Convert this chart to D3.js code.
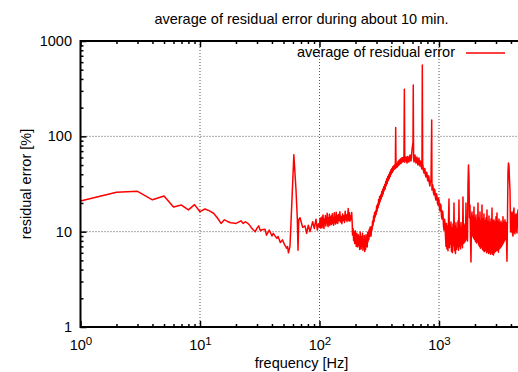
<!DOCTYPE html>
<html>
<head>
<meta charset="utf-8">
<script src="https://d3js.org/d3.v7.min.js"></script>
<style>
    body { margin: 0; background: #fff; }
    svg text { font-family: "Liberation Sans", Arial, Helvetica, sans-serif; fill: #000; }
</style>
</head>
<body>
<div id="chart"></div>
<script>
// spectrum: [frequency Hz, residual error %]
const lowBand = [[1,21],[2,25.9],[3,26.5],[4,21.6],[5,23.7],[6,18.1],[7,19.0],[8,16.9],[9,19.2],[10,16.2],
    [11,17.3],[12,16.5],[13,15.6],[14,13.9],[15,12.2],[16,13.3],[17,12.8],[18,12.4],[19,12.3],[20,12.2],
    [21,12.6],[22,13.0],[23,12.2],[24,12.7],[25,12.3],[26,11.7],[27,10.9],[28,10.4],[29,10.0],[30,10.9],
    [31,11.5],[32,10.2],[33,10.5],[35,10.6],[36,9.2],[38,10.4],[40,9.0],[41,9.6],[44,8.5],[45,8.9],
    [47,7.7],[49,8.2],[51,7.3],[53,6.7],[54,7.0],[55,6.0],[56.6,7.0]];

const mainsPeak = [[58.5,18.3],[61,64],[63.6,27.4],[65.2,13.8],[66.1,6.4],[67,13.3],[68.7,14.0]];

const midBand = [[72.3,11.1],[75.6,11.5],[78.1,9.6],[80.6,11.7],[83.3,10.0],[87.7,12.7],[90.5,10.8],
    [93.5,13.5],[95.9,10.4],[98,12.1],[100,11.2],[101,13.8],[102,10.9],[103,12.5],[104,14.2],[105,11.0],
    [106,13.1],[107,15.0],[108,11.8],[109,10.8],[110,13.6],[111,12.2],[112,14.8],[113,11.5],[114,13.9],
    [115,12.4],[116,15.6],[117,12.0],[118,11.3],[119,14.1],[120,12.9],[121,15.2],[122,11.6],[123,13.4],
    [124,12.1],[125,14.6],[126,11.9],[127,13.7],[128,15.4],[129,12.3],[130,14.0],[131,11.7],[132,13.2],
    [133,15.8],[134,12.5],[135,14.3],[136,12.0],[137,13.6],[138,16.0],[139,12.4],[140,14.9],[142,12.2],
    [144,15.1],[146,13.0],[148,16.2],[150,12.6],[152,14.4],[154,12.1],[156,15.3],[158,13.1],[160,14.7],
    [162,12.5],[164,16.4],[166,13.3],[168,15.0],[170,12.8],[172,14.5],[174,17.5],[176,13.0],[178,15.8],
    [180,12.9],[182,14.6],[184,13.4],[186,15.9],[188,11.8]];

const dipBand = [[189,9.2],[191,10.8],[193,8.1],[195,9.9],[197,7.5],[199,10.2],[201,8.4],[203,7.0],
    [205,9.6],[207,7.8],[209,6.9],[211,9.3],[213,7.2],[215,8.8],[217,6.5],[219,9.9],[221,7.4],[223,6.6],
    [225,8.9],[227,7.1],[229,9.6],[231,6.4],[233,8.2],[235,6.8],[237,9.1],[239,6.2],[241,8.0],[243,6.5],
    [245,9.3],[247,7.0],[249,8.6],[251,6.9],[253,9.8],[255,7.9],[257,10.1],[259,8.3],[261,10.6],[263,8.9],
    [265,11.2],[267,9.4]];

const humpBand = [[270,9.0],[272.6,11.3],[275.3,10.4],[278,12.9],[280.7,11.6],[283.5,14.6],[286.2,12.7],
    [289,15.9],[291.9,14.2],[294.7,16.5],[297.6,15.1],[300.5,18.6],[303.5,16.4],[306.4,19.5],[309.4,17.8],
    [312.5,21.8],[315.5,19.2],[318.6,23.4],[321.7,20.6],[324.9,24.3],[328.1,22.0],[331.3,26.2],[334.5,23.4],
    [337.8,27.9],[341.1,24.8],[344.5,29.6],[347.8,26.9],[351.2,31.2],[354.7,28.1],[358.2,33.5],[361.7,30.3],
    [365.2,35.8],[368.8,32.1],[372.4,37.9],[376.1,34.2],[379.8,39.6],[383.5,36.0],[387.2,42.0],[391,37.8],
    [394.9,44.3],[398.7,40.2],[402.6,46.0],[406.6,41.8],[410.6,48.1],[414.6,43.6],[418.7,49.0],[422.8,45.2],
    [426.9,50.5],[431.1,46.0],[434,124],[437,49.5],[441,47.0],[445,52.0],[449,48.0],[454,54.5],[458,49.5],
    [463,56.0],[467,50.5],[472,57.2],[476,52.0],[481,58.5],[486,52.5],[490,59.5],[495,54.0],[500,60.0],
    [504,54.5],[509,61.0],[513,311],[517,53.5],[523,59.5],[529,60.7],[535,55.0],[540,52.5],[545,61.5],
    [550,60.7],[556,54.0],[561,53.9],[567,62.0],[572,63.7],[578,56.0],[583,55.2],[589,62.5],[594,71.9],
    [606,87.2],[609,346],[613,58.0],[618,53.9],[624,61.0],[630,63.7],[636,55.5],[642,52.5],[648,59.0],
    [654,60.7],[660,53.0],[667,50.0],[673,57.0],[680,59.3],[686,51.5],[693,48.8],[700,55.0],[707,53.9],
    [713,47.0],[720,45.4],[725,560],[730,49.0],[734,50.0],[741,43.5],[749,41.2],[756,46.0],[763,45.4],
    [770,39.0],[778,37.5],[785,42.0],[793,41.2],[801,35.5],[809,34.0],[816,38.5],[824,37.5],[832,31.5],
    [840,30.1],[848,34.5],[857,33.2],[869,148],[873,27.4],[881,31.5],[890,30.1],[899,25.5],[908,24.3],
    [916,28.0],[925,26.7],[934,22.5],[943,21.5],[952,25.0],[962,23.7],[971,20.0],[981,19.0],[990,22.5],
    [1000,21.5],[1009,17.5],[1019,16.5],[1029,19.5],[1039,18.6],[1049,14.5],[1059,13.6],[1070,16.5],
    [1080,15.3],[1090,11.5],[1101,10.4],[1112,13.5],[1122,12.6],[1133,9.0]];

const highBand = [[1144,7.0],[1155,12.2],[1166,6.6],[1178,11.4],[1189,6.3],[1201,13.5],[1212,22.0],[1224,6.8],
    [1235,11.8],[1247,7.4],[1259,12.6],[1272,6.2],[1284,10.9],[1296,6.0],[1309,12.0],[1322,7.1],[1335,20.0],
    [1348,6.3],[1361,11.5],[1374,5.9],[1387,12.4],[1401,6.5],[1414,10.8],[1428,6.9],[1441,12.9],[1455,6.4],
    [1469,21.5],[1484,7.0],[1498,11.3],[1513,6.6],[1527,12.5],[1542,7.3],[1557,11.0],[1572,6.8],[1587,23.1],
    [1603,7.5],[1618,12.1],[1634,7.7],[1650,11.6],[1666,8.0],[1682,20.0],[1698,8.4],[1715,12.5],[1731,8.0],
    [1748,30.9],[1765,50.0],[1782,36.5],[1799,14.0],[1817,19.0],[1834,9.0],[1852,4.8],[1870,13.5],[1888,16.1],
    [1906,9.0],[1925,14.5],[1944,8.6],[1962,18.1],[1981,8.3],[2000,14.0],[2019,7.9],[2039,15.0],[2059,7.6],
    [2079,13.2],[2099,7.8],[2119,20.0],[2140,7.3],[2160,13.8],[2182,7.0],[2203,16.1],[2224,6.7],[2245,13.0],
    [2267,6.9],[2289,19.0],[2311,6.5],[2334,13.6],[2356,6.3],[2379,15.3],[2402,6.2],[2425,13.0],[2449,6.4],
    [2473,13.9],[2497,6.0],[2521,16.9],[2545,6.2],[2570,12.8],[2595,5.9],[2620,14.6],[2645,6.1],[2671,12.5],
    [2697,5.8],[2723,13.6],[2750,6.0],[2776,17.7],[2803,5.8],[2830,12.9],[2857,5.7],[2885,13.3],[2913,6.0],
    [2941,12.6],[2969,6.2],[2998,14.3],[3027,6.3],[3056,15.7],[3086,6.4],[3116,12.8],[3146,6.1],[3177,13.6],
    [3207,6.6],[3238,12.4],[3270,6.8],[3301,12.9],[3333,7.0],[3366,12.2],[3398,7.3],[3431,14.3],[3465,7.6],
    [3498,12.6],[3532,8.0],[3566,13.3],[3600,8.3],[3635,12.5],[3670,8.6],[3706,4.9],[3742,14.0],[3778,42.3],
    [3814,52.5],[3851,48.8],[3889,35.0],[3927,27.4],[3965,10.5],[4003,9.9],[4042,14.8],[4081,16.1],[4120,9.6],
    [4160,9.0],[4200,15.5],[4241,17.7],[4282,9.8],[4324,9.5],[4366,14.6],[4408,15.3],[4451,10.2],[4494,9.7],
    [4537,15.0],[4581,16.9],[4650,10.5]];

const xDomain = [1, 5000];
const yDomain = [1, 1000];
const xMajor = [1, 10, 100, 1000];
const xExponents = ["0", "1", "2", "3"];
const yMajor = [1, 10, 100, 1000];
const minorSteps = [2, 3, 4, 5, 6, 7, 8, 9];
const titleText = "average of residual error during about 10 min.";
const xLabel = "frequency [Hz]";
const yLabel = "residual error [%]";
const legendText = "average of residual error";

const spectrum = lowBand.concat(mainsPeak, midBand, dipBand, humpBand, highBand);

const svg = d3.select("#chart")
    .append("svg")
    .attr("width", 518)
    .attr("height", 372)
    .style("background", "#fff");

const plotLeft = 80.5;
const plotTop = 41;
const plotBottom = 327;
const decadeW = 119.5;
const plotRight = plotLeft + decadeW * Math.log10(xDomain[1]);
const plotMid = (plotLeft + plotRight) / 2;
const fontSize = 14.5;

const xScale = d3.scaleLog().domain(xDomain).range([plotLeft, plotRight]);
const yScale = d3.scaleLog().domain(yDomain).range([plotBottom, plotTop]);

function minorOf(majors, maxVal) {
    var out = [];
    majors.forEach(m => minorSteps.forEach(s => { if (m * s < maxVal) out.push(m * s); }));
    return out;
}
const xMinor = minorOf(xMajor, xDomain[1]);
const yMinor = minorOf(yMajor.slice(0, 3), yDomain[1]);

// grid
const grid = svg.append("g");
grid.selectAll("line.vg")
    .data(xMajor.slice(1))
    .enter().append("line")
    .attr("x1", d => xScale(d)).attr("x2", d => xScale(d))
    .attr("y1", plotTop).attr("y2", plotBottom)
    .attr("stroke", "#555").attr("stroke-width", 1).attr("stroke-dasharray", "1,2");
grid.selectAll("line.hg")
    .data(yMajor.slice(1, 3))
    .enter().append("line")
    .attr("x1", plotLeft).attr("x2", plotRight)
    .attr("y1", d => yScale(d)).attr("y2", d => yScale(d))
    .attr("stroke", "#555").attr("stroke-width", 1).attr("stroke-dasharray", "1,2");

// data
svg.append("clipPath").attr("id", "plotClip")
    .append("rect")
    .attr("x", plotLeft).attr("y", plotTop)
    .attr("width", plotRight - plotLeft).attr("height", plotBottom - plotTop);

const line = d3.line()
    .x(d => xScale(d[0]))
    .y(d => yScale(d[1]));

svg.append("path")
    .datum(spectrum)
    .attr("clip-path", "url(#plotClip)")
    .attr("d", line)
    .attr("fill", "none")
    .attr("stroke", "#ff0000")
    .attr("stroke-width", 1.5)
    .attr("stroke-linejoin", "round");

// ticks (inward, mirrored on top)
function styleAxis(g) {
    g.select(".domain").remove();
    g.selectAll(".tick line").attr("stroke", "#000").attr("stroke-width", 1.5);
    g.selectAll("text").style("font-size", fontSize + "px").attr("fill", "#000");
}

svg.append("g").attr("transform", "translate(0," + plotBottom + ")")
    .call(d3.axisBottom(xScale).tickValues(xMinor).tickSize(-3).tickFormat(""))
    .call(styleAxis);
svg.append("g").attr("transform", "translate(0," + plotTop + ")")
    .call(d3.axisTop(xScale).tickValues(xMinor).tickSize(-3).tickFormat(""))
    .call(styleAxis);
svg.append("g").attr("transform", "translate(0," + plotTop + ")")
    .call(d3.axisTop(xScale).tickValues(xMajor).tickSize(-6).tickFormat(""))
    .call(styleAxis);
svg.append("g").attr("transform", "translate(" + plotLeft + ",0)")
    .call(d3.axisLeft(yScale).tickValues(yMinor).tickSize(-3).tickFormat(""))
    .call(styleAxis);

const xAxis = svg.append("g").attr("transform", "translate(0," + plotBottom + ")")
    .call(d3.axisBottom(xScale).tickValues(xMajor).tickSize(-6).tickPadding(12.5).tickFormat(""))
    .call(styleAxis);
xAxis.selectAll(".tick text").each(function (d, i) {
    const t = d3.select(this).attr("text-anchor", "middle");
    t.append("tspan").text("10");
    t.append("tspan").attr("dy", "-0.45em").style("font-size", "11.5px").text(xExponents[i]);
});

svg.append("g").attr("transform", "translate(" + plotLeft + ",0)")
    .call(d3.axisLeft(yScale).tickValues(yMajor).tickSize(-6).tickPadding(8.5).tickFormat(d3.format("d")))
    .call(styleAxis);

// border
svg.append("path")
    .attr("d", "M" + plotRight + "," + plotTop + "H" + plotLeft + "V" + plotBottom + "H" + plotRight + "Z")
    .attr("fill", "none").attr("stroke", "#000").attr("stroke-width", 2);

// labels
svg.append("text").attr("x", plotMid).attr("y", 24).attr("text-anchor", "middle")
    .style("font-size", fontSize + "px").text(titleText);
svg.append("text").attr("x", plotMid).attr("y", 368).attr("text-anchor", "middle")
    .style("font-size", fontSize + "px").text(xLabel);
svg.append("text").attr("transform", "translate(30.5," + (plotTop + plotBottom) / 2 + ") rotate(-90)")
    .attr("text-anchor", "middle")
    .style("font-size", fontSize + "px").text(yLabel);

// legend
svg.append("text").attr("x", 455).attr("y", 57).attr("text-anchor", "end")
    .style("font-size", fontSize + "px").text(legendText);
svg.append("line").attr("x1", 466).attr("x2", 505).attr("y1", 53).attr("y2", 53)
    .attr("stroke", "#ff0000").attr("stroke-width", 1.5);
</script>
</body>
</html>
